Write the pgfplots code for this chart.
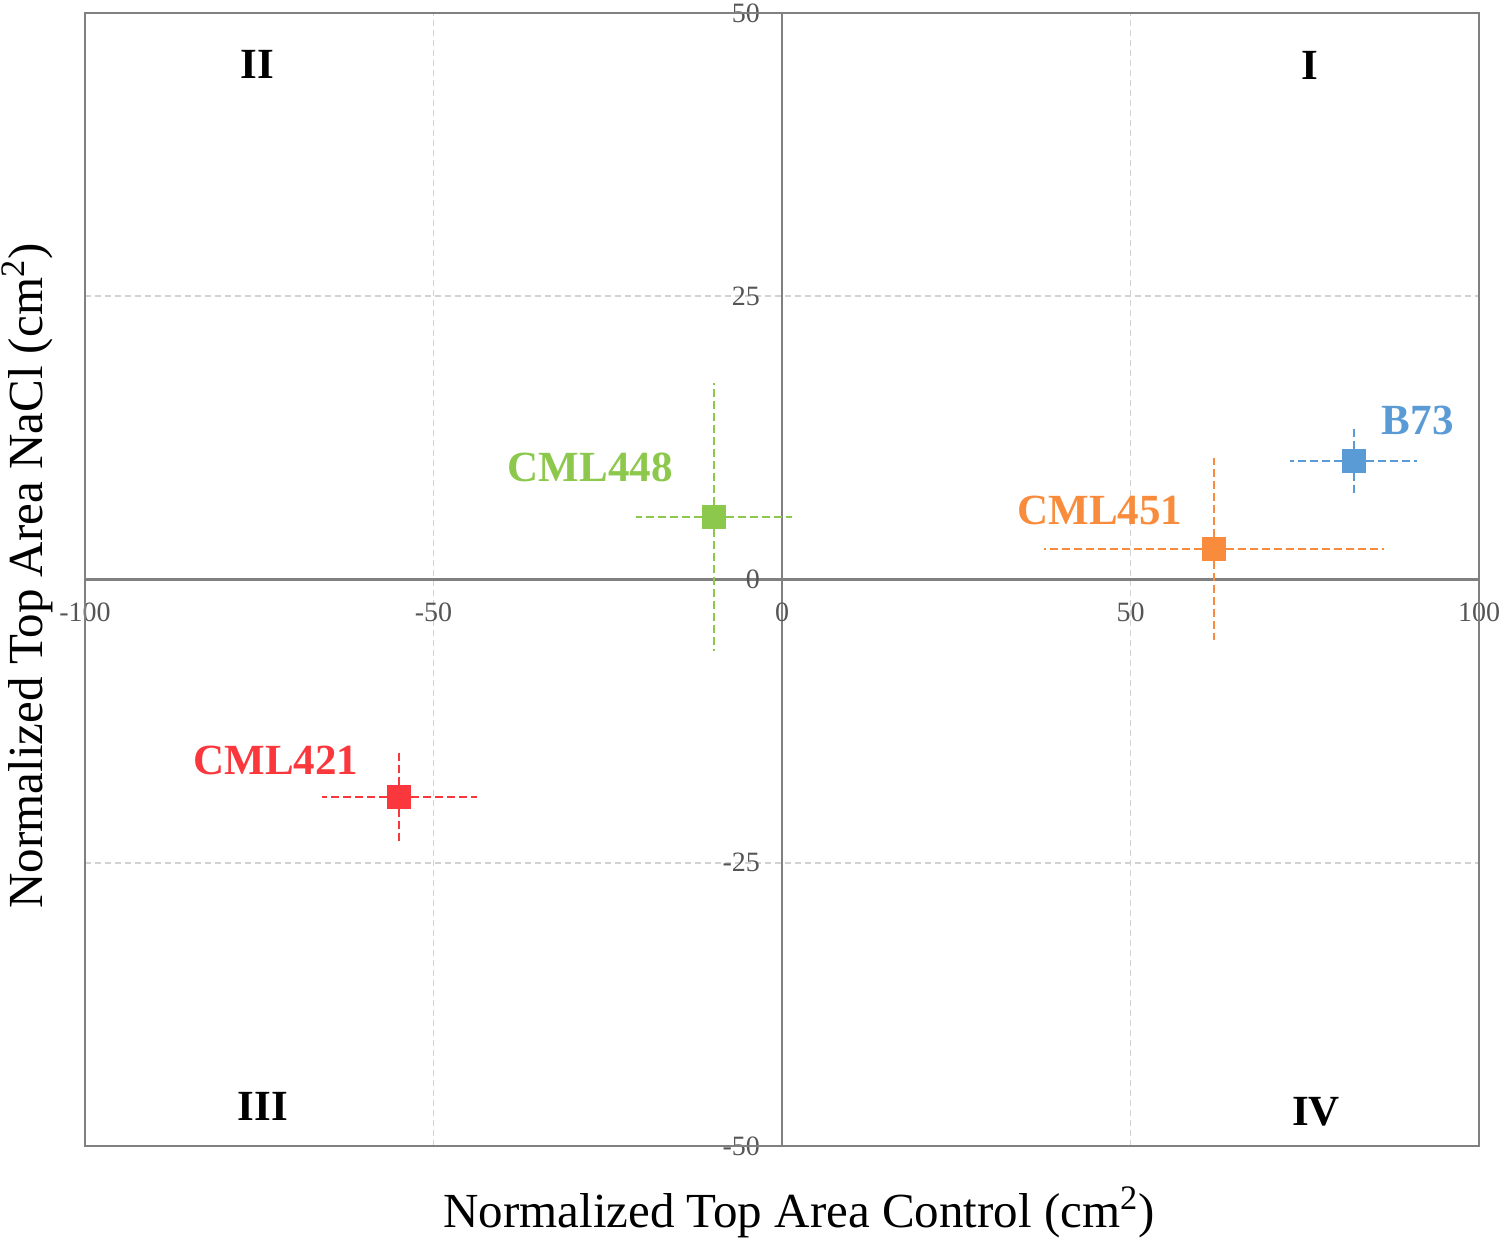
\documentclass[border=0pt]{standalone}
\usepackage{pgfplots}
\pgfplotsset{compat=1.18}
\usepackage{pgfplotstable}
\usepackage{fontspec}
\setmainfont{Liberation Serif}
\definecolor{cgreen}{RGB}{140,200,75}
\definecolor{cblue}{RGB}{91,155,213}
\definecolor{corange}{RGB}{248,140,60}
\definecolor{cred}{RGB}{250,55,60}
\definecolor{axgray}{RGB}{128,128,128}
\definecolor{tickgray}{RGB}{85,85,85}
\definecolor{gridgray}{RGB}{210,210,210}

\pgfplotstableread{
x y ex ey
-9.8 5.5 11.2 11.8
}\tabGreen
\pgfplotstableread{
x y ex ey
82.0 10.5 9.1 3.0
}\tabBlue
\pgfplotstableread{
x y ex ey
62.0 2.7 24.4 8.0
}\tabOrange
\pgfplotstableread{
x y ex ey
-54.9 -19.2 11.1 4.0
}\tabRed

\begin{document}
\begin{tikzpicture}
\begin{axis}[
  scale only axis,
  width=697pt, height=566.5pt,
  xmin=-100, xmax=100, ymin=-50, ymax=50,
  axis lines=middle,
  axis line style={-, draw=axgray, line width=1.2pt},
  xtick={-100,-50,0,50,100},
  ytick={-50,-25,0,25,50},
  extra x ticks={0},
  extra y ticks={0},
  extra tick style={grid=none},
  major tick length=0pt,
  grid=major,
  grid style={dashed, draw=gridgray, line width=0.8pt, dash pattern=on 3pt off 2pt},
  /pgf/number format/assume math mode=true,
  ticklabel style={font=\fontsize{14}{16}\selectfont, text=tickgray},
  xticklabel style={anchor=center, yshift=-16.5pt},
  yticklabel style={anchor=east, xshift=-7.5pt},
  clip=false,
  error bars/error mark=none,
]
\draw[axgray, line width=1.2pt] (rel axis cs:0,0) rectangle (rel axis cs:1,1);
\coordinate (SW) at (rel axis cs:0,0);
\coordinate (NE) at (rel axis cs:1,1);

\addplot[only marks, mark=square*, mark size=5.75pt, color=cgreen,
  error bars/.cd, x dir=both, y dir=both, x explicit, y explicit,
  error bar style={line width=1pt, dash pattern=on 4pt off 2pt, color=cgreen}]
  table[x=x, y=y, x error=ex, y error=ey] {\tabGreen};
\addplot[only marks, mark=square*, mark size=5.75pt, color=cblue,
  error bars/.cd, x dir=both, y dir=both, x explicit, y explicit,
  error bar style={line width=1pt, dash pattern=on 4pt off 2pt, color=cblue}]
  table[x=x, y=y, x error=ex, y error=ey] {\tabBlue};
\addplot[only marks, mark=square*, mark size=5.75pt, color=corange,
  error bars/.cd, x dir=both, y dir=both, x explicit, y explicit,
  error bar style={line width=1pt, dash pattern=on 4pt off 2pt, color=corange}]
  table[x=x, y=y, x error=ex, y error=ey] {\tabOrange};
\addplot[only marks, mark=square*, mark size=5.75pt, color=cred,
  error bars/.cd, x dir=both, y dir=both, x explicit, y explicit,
  error bar style={line width=1pt, dash pattern=on 4pt off 2pt, color=cred}]
  table[x=x, y=y, x error=ex, y error=ey] {\tabRed};

\node[font=\fontsize{21.5}{24}\selectfont\bfseries, text=cgreen] at (axis cs:-27.5,9.9) {CML448};
\node[font=\fontsize{21.5}{24}\selectfont\bfseries, text=corange] at (axis cs:45.6,6.1) {CML451};
\node[font=\fontsize{21.5}{24}\selectfont\bfseries, text=cblue] at (axis cs:91.2,14.0) {B73};
\node[font=\fontsize{21.5}{24}\selectfont\bfseries, text=cred] at (axis cs:-72.6,-16.0) {CML421};

\node[font=\fontsize{21.5}{24}\selectfont\bfseries] at (axis cs:-75.3,45.5) {II};
\node[font=\fontsize{21.5}{24}\selectfont\bfseries] at (axis cs:75.8,45.4) {I};
\node[font=\fontsize{21.5}{24}\selectfont\bfseries] at (axis cs:-74.5,-46.5) {III};
\node[font=\fontsize{21.5}{24}\selectfont\bfseries] at (axis cs:76.6,-47.0) {IV};

\node[font=\fontsize{24.5}{28}\selectfont, anchor=center] at ([xshift=8.5pt, yshift=-33pt]rel axis cs:0.5,0) {Normalized Top Area Control (cm\textsuperscript{2})};
\node[font=\fontsize{24.5}{28}\selectfont, anchor=center, rotate=90] at ([xshift=-29pt, yshift=1.75pt]rel axis cs:0,0.5) {Normalized Top Area NaCl (cm\textsuperscript{2})};
\end{axis}
\pgfresetboundingbox
\path ([shift={(-42.5pt,-47.5pt)}]SW) rectangle ([shift={(12pt,6.5pt)}]NE);
\end{tikzpicture}
\end{document}
